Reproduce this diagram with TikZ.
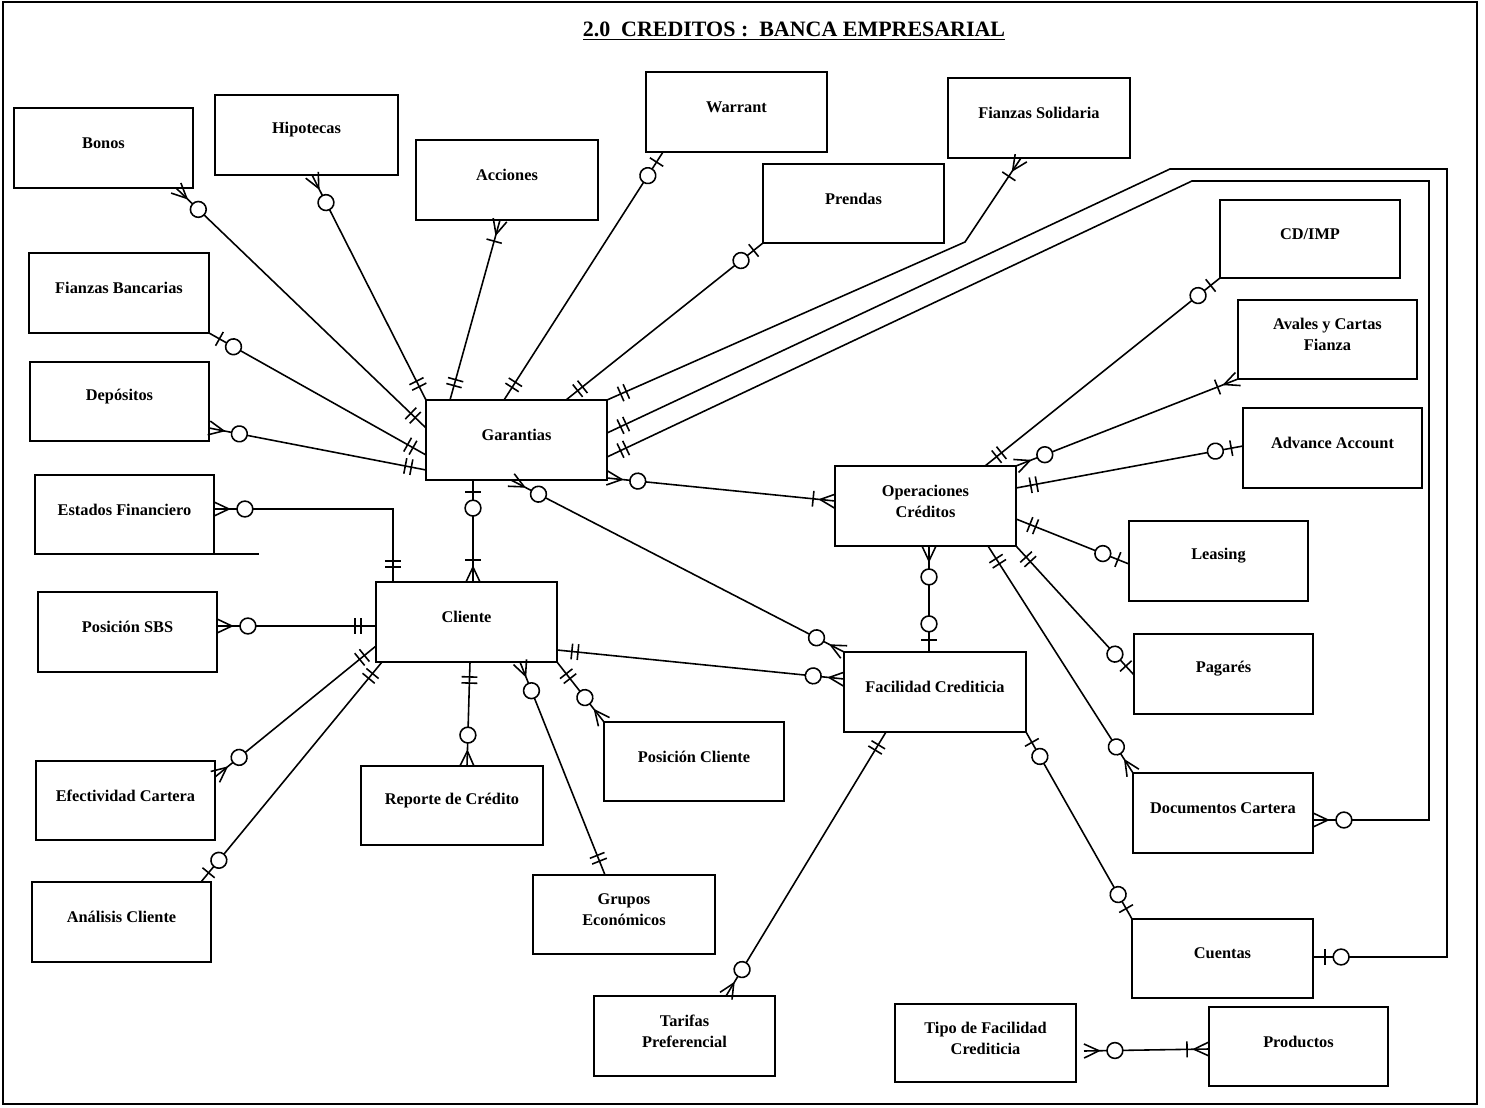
\documentclass[tikz,border=0pt]{standalone}
\usepackage{fontspec}
\setmainfont{Liberation Serif}
\usetikzlibrary{decorations.markings,calc}

% entity box: name, x1, y1, x2, y2, label
\newcommand\erent[6]{%
  \node[ebox, minimum width={(#4-#2)*0.02cm}, minimum height={(#5-#3)*0.02cm}]
    (#1) at ({(#2+#4)/2},{(#3+#5)/2}) {};
  \node[etext] at ({(#2+#4)/2},{(#3+#5)/2-5}) {#6};
}

\tikzset{
  ebox/.style={draw, rectangle, inner sep=0pt, outer sep=0pt},
  etext/.style={align=center, inner sep=0pt,
    font=\fontsize{9.3}{12}\selectfont\bfseries},
  rel/.style={draw},
  mk/.style 2 args={postaction={decorate,decoration={markings,
      mark=at position #1 with {#2}}}},
  ring/.style={mk={#1}{\draw[fill=white] (0,0) circle[radius=4.5pt];}},
  tick/.style={mk={#1}{\draw (0,-4.5pt) -- (0,4.5pt);}},
  crowS/.style={mk={8.5pt}{\draw (0,0) -- (-8.5pt,4pt) (0,0) -- (-8.5pt,-4pt);}},
  crowE/.style={mk={-8.5pt}{\draw (0,0) -- (8.5pt,4pt) (0,0) -- (8.5pt,-4pt);}},
  % zero or many / one or many / zero or one / exactly one
  sZM/.style={crowS, ring=17.6pt}, eZM/.style={crowE, ring=-17.6pt},
  sOM/.style={crowS, tick=12.5pt}, eOM/.style={crowE, tick=-12.5pt},
  sZO/.style={tick=6.8pt, ring=16pt}, eZO/.style={tick=-6.8pt, ring=-16pt},
  sOO/.style={tick=8.5pt, tick=12pt}, eOO/.style={tick=-8.5pt, tick=-12pt},
}

\begin{document}
\begin{tikzpicture}[x=0.02cm, y=-0.02cm, line width=0.9pt]
\useasboundingbox (0,0) rectangle (1485,1108);
\fill[white] (0,0) rectangle (1485,1108);
\draw[line width=0.8pt] (3,2) rectangle (1477,1104);

\node[font=\fontsize{12.5}{14}\selectfont\bfseries] (title) at (794,31)
  {\underline{2.0\ \ CREDITOS :\ \ BANCA EMPRESARIAL}};

% entities
\erent{bonos}{14}{108}{193}{188}{Bonos}
\erent{hipo}{215}{95}{398}{175}{Hipotecas}
\erent{acc}{416}{140}{598}{220}{Acciones}
\erent{warr}{646}{72}{827}{152}{Warrant}
\erent{prend}{763}{164}{944}{243}{Prendas}
\erent{fsol}{948}{78}{1130}{158}{Fianzas Solidaria}
\erent{fban}{29}{253}{209}{333}{Fianzas Bancarias}
\erent{dep}{30}{362}{209}{441}{Depósitos}
\erent{gar}{426}{400}{607}{480}{Garantias}
\erent{estf}{35}{475}{214}{554}{Estados Financiero}
\erent{psbs}{38}{592}{217}{672}{Posición SBS}
\erent{cli}{376}{582}{557}{662}{Cliente}
\erent{cdimp}{1220}{200}{1400}{278}{CD/IMP}
\erent{aval}{1238}{300}{1417}{379}{Avales y Cartas\\Fianza}
\erent{adv}{1243}{408}{1422}{488}{Advance Account}
\erent{oper}{835}{466}{1016}{546}{Operaciones\\Créditos}
\erent{leas}{1129}{521}{1308}{601}{Leasing}
\erent{fac}{844}{652}{1026}{732}{Facilidad Crediticia}
\erent{pag}{1134}{634}{1313}{714}{Pagarés}
\erent{efec}{36}{761}{215}{840}{Efectividad Cartera}
\erent{rep}{361}{766}{543}{845}{Reporte de Crédito}
\erent{pcli}{604}{722}{784}{801}{Posición Cliente}
\erent{doc}{1133}{773}{1313}{853}{Documentos Cartera}
\erent{grup}{533}{875}{715}{954}{Grupos\\Económicos}
\erent{anal}{32}{882}{211}{962}{Análisis Cliente}
\erent{cuen}{1132}{919}{1313}{998}{Cuentas}
\erent{tar}{594}{996}{775}{1076}{Tarifas\\Preferencial}
\erent{tipo}{895}{1004}{1076}{1082}{Tipo de Facilidad\\Crediticia}
\erent{prod}{1209}{1007}{1388}{1086}{Productos}

% extension of the Estados Financiero base line
\draw (estf.south east) -- ++(45,0);

% relationships around Garantias
\draw[rel,sZM,eOO] (bonos.south -| 176,0) -- (gar.west |- 0,428);
\draw[rel,sZM,eOO] (hipo.south -| 312,0) -- (gar.north west);
\draw[rel,sZO,eOO] (fban.south east) -- (gar.west |- 0,455);
\draw[rel,sZM,eOO] (dep.east |- 0,428) -- (gar.west |- 0,470);
\draw[rel,sOM,eOO] (acc.south -| 500,0) -- (gar.north -| 450,0);
\draw[rel,sZO,eOO] (warr.south -| 663,0) -- (gar.north -| 504,0);
\draw[rel,sZO,eOO] (prend.south west) -- (gar.north -| 566,0);
\draw[rel,sOM,eOO] (fsol.south -| 1021,0) -- (965,242) -- (gar.north east);
\draw[rel,sOO,eZO] (gar.east |- 0,433) -- (1170,169) -- (1447,169)
  -- (1447,957) -- (cuen.east |- 0,957);
\draw[rel,sOO,eZM] (gar.east |- 0,457) -- (1192,181) -- (1429,181)
  -- (1429,820) -- (doc.east |- 0,820);
\draw[rel,sZM,eOM] (gar.east |- 0,478) -- (oper.west |- 0,501);
\draw[rel,sZO,eOM] (gar.south -| 473,0) -- (cli.north -| 473,0);
\draw[rel,sZM,eZM] (gar.south -| 511,0) -- (fac.north west);

% relationships around Cliente
\draw[rel,sZM,eOO] (estf.east |- 0,509) -- (393,509) -- (cli.north -| 393,0);
\draw[rel,sZM,eOO] (psbs.east |- 0,626) -- (cli.west |- 0,626);
\draw[rel,sOO,eZM] (cli.west |- 0,646) -- (efec.east |- 0,777);
\draw[rel,sOO,eZO] (cli.south -| 382,0) -- (anal.north -| 201,0);
\draw[rel,sOO,eZM] (cli.south -| 470,0) -- (rep.north -| 467,0);
\draw[rel,sZM,eOO] (cli.south -| 520,0) -- (grup.north -| 605,0);
\draw[rel,sOO,eZM] (cli.south east) -- (pcli.north west);
\draw[rel,sOO,eZM] (cli.east |- 0,650) -- (fac.west |- 0,679);

% relationships around Operaciones Creditos
\draw[rel,sZM,eZO] (oper.south -| 929,0) -- (fac.north -| 929,0);
\draw[rel,sOO,eZO] (oper.north -| 985,0) -- (cdimp.south west);
\draw[rel,sZM,eOM] (oper.north east) -- (aval.south west);
\draw[rel,sOO,eZO] (oper.east |- 0,488) -- (adv.west |- 0,446);
\draw[rel,sOO,eZO] (oper.east |- 0,519) -- (leas.west |- 0,564);
\draw[rel,sOO,eZO] (oper.south east) -- (pag.west |- 0,675);
\draw[rel,sOO,eZM] (oper.south -| 988,0) -- (doc.north west);

% relationships around Facilidad Crediticia
\draw[rel,sOO,eZM] (fac.south -| 886,0) -- (tar.north -| 726,0);
\draw[rel,sZO,eZO] (fac.south east) -- (cuen.north west);

% Tipo de Facilidad -- Productos
\coordinate (tipoR) at ($(tipo.east |- 0,1051)+(8,0)$);
\draw[rel,sZM,eOM] (tipoR) -- (prod.west |- 0,1049);
\end{tikzpicture}
\end{document}
